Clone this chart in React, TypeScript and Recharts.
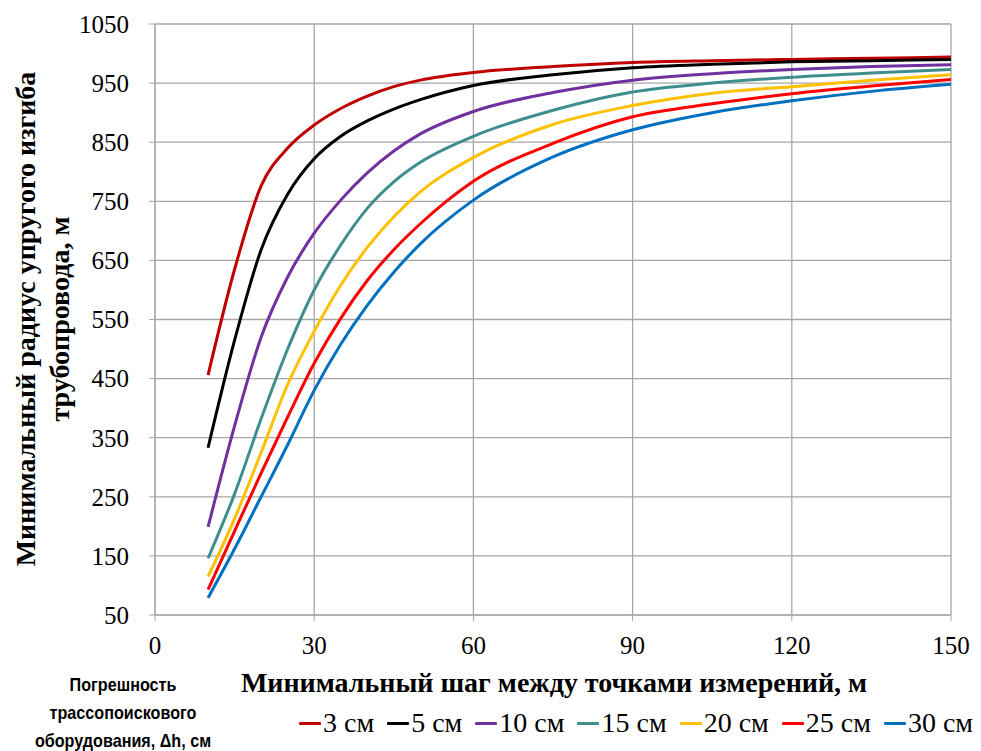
import { LineChart, Line, XAxis, YAxis, CartesianGrid } from 'recharts';

const steps = [10, 15, 20, 25, 30, 35, 40, 45, 50, 60, 75, 90, 105, 120, 135, 150];

const dh3 = [456, 635, 776, 840, 879, 907, 928, 944, 955, 968, 978, 985, 988, 990, 992, 994];
const dh5 = [333, 515, 668, 762, 822, 860, 886, 906, 922, 946, 964, 976, 982, 986, 988, 990];
const dh10 = [199, 370, 520, 622, 696, 752, 798, 835, 864, 902, 934, 955, 966, 973, 978, 981];
const dh15 = [146, 255, 382, 500, 600, 676, 738, 783, 816, 860, 904, 935, 950, 960, 967, 973];
const dh20 = [115, 213, 325, 440, 530, 608, 672, 724, 766, 824, 880, 912, 933, 944, 955, 964];
const dh25 = [93, 192, 290, 385, 476, 552, 616, 668, 712, 784, 848, 893, 915, 932, 945, 956];
const dh30 = [79, 162, 250, 338, 430, 508, 574, 630, 678, 752, 825, 871, 900, 920, 936, 948];

const xTicks = [0, 30, 60, 90, 120, 150];
const yTicks = [50, 150, 250, 350, 450, 550, 650, 750, 850, 950, 1050];

const series = [
  { key: 'dh3', name: '3 см', values: dh3, color: '#C00000' },
  { key: 'dh5', name: '5 см', values: dh5, color: '#000000' },
  { key: 'dh10', name: '10 см', values: dh10, color: '#7030A0' },
  { key: 'dh15', name: '15 см', values: dh15, color: '#3F8E8E' },
  { key: 'dh20', name: '20 см', values: dh20, color: '#FFC000' },
  { key: 'dh25', name: '25 см', values: dh25, color: '#FF0000' },
  { key: 'dh30', name: '30 см', values: dh30, color: '#0070C0' },
];

const data = steps.map((s, i) => {
  const row: Record<string, number> = { step: s };
  series.forEach((sr) => {
    row[sr.key] = sr.values[i];
  });
  return row;
});

const serif = '"Liberation Serif", "Times New Roman", serif';
const tickStyle = { fontFamily: serif, fontSize: 25, fill: '#000' };

export default function App() {
  return (
    <div style={{ position: 'absolute', left: 0, top: 0, width: 981, height: 751, background: '#fff', overflow: 'hidden' }}>
      <LineChart width={981} height={751} data={data} margin={{ top: 24, right: 30, left: 0, bottom: 0 }}>
        <CartesianGrid stroke="#a6a6a6" strokeWidth={1.3} />
        <XAxis
          dataKey="step"
          type="number"
          domain={[0, 150]}
          ticks={xTicks}
          height={136}
          stroke="#a6a6a6"
          tickSize={6}
          tickMargin={15}
          tick={tickStyle}
        />
        <YAxis
          type="number"
          domain={[50, 1050]}
          ticks={yTicks}
          width={155}
          stroke="#a6a6a6"
          tickSize={6}
          tickMargin={20}
          tick={tickStyle}
        />
        {series.map((s) => (
          <Line
            key={s.key}
            type="monotone"
            dataKey={s.key}
            name={s.name}
            stroke={s.color}
            strokeWidth={3}
            dot={false}
            isAnimationActive={false}
          />
        ))}
      </LineChart>

      {/* y axis title, two lines */}
      <div
        style={{
          position: 'absolute',
          left: 43,
          top: 319,
          transform: 'translate(-50%, -50%) rotate(-90deg)',
          whiteSpace: 'nowrap',
          textAlign: 'center',
          fontFamily: serif,
          fontWeight: 'bold',
          fontSize: 28,
          lineHeight: '34px',
        }}
      >
        Минимальный радиус упругого изгиба
        <br />
        трубопровода, м
      </div>

      {/* x axis title */}
      <div
        style={{
          position: 'absolute',
          left: 554,
          top: 683,
          transform: 'translate(-50%, -50%)',
          whiteSpace: 'nowrap',
          fontFamily: serif,
          fontWeight: 'bold',
          fontSize: 28,
        }}
      >
        Минимальный шаг между точками измерений, м
      </div>

      {/* legend title */}
      <div
        style={{
          position: 'absolute',
          left: 123,
          top: 713,
          transform: 'translate(-50%, -50%) scaleX(0.85)',
          whiteSpace: 'nowrap',
          textAlign: 'center',
          fontFamily: '"Liberation Sans", Arial, sans-serif',
          fontWeight: 'bold',
          fontSize: 19,
          lineHeight: '28px',
        }}
      >
        Погрешность
        <br />
        трассопоискового
        <br />
        оборудования, Δh, см
      </div>

      {/* legend */}
      <div
        style={{
          position: 'absolute',
          left: 299,
          top: 723,
          transform: 'translateY(-50%)',
          display: 'flex',
          alignItems: 'center',
          whiteSpace: 'nowrap',
          fontFamily: serif,
          fontSize: 28,
          lineHeight: '30px',
        }}
      >
        {series.map((s) => (
          <div key={s.key} style={{ display: 'flex', alignItems: 'center', marginRight: 13 }}>
            <div style={{ width: 22, height: 3, background: s.color, borderRadius: 1, marginRight: 2 }} />
            <span>{s.name}</span>
          </div>
        ))}
      </div>
    </div>
  );
}
